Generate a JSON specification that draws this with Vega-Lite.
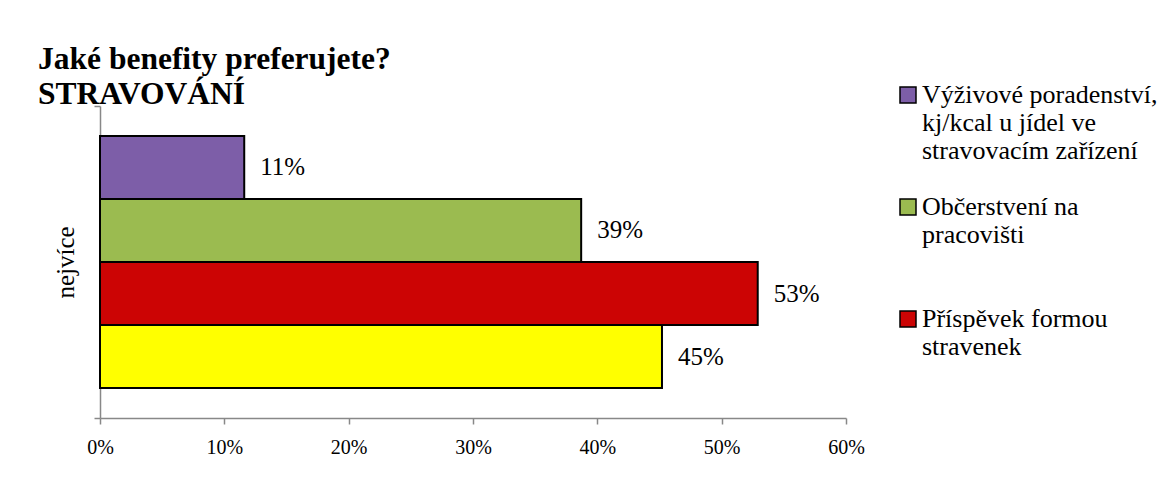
{
  "$schema": "https://vega.github.io/schema/vega-lite/v6.json",
  "width": 746,
  "height": 312,
  "autosize": "none",
  "padding": {"left": 100, "top": 106, "right": 327, "bottom": 73},
  "background": "white",
  "config": {"view": {"stroke": null}, "font": "Liberation Serif"},
  "title": {
    "text": ["Jaké benefity preferujete?", "STRAVOVÁNÍ"],
    "anchor": "start",
    "frame": "group",
    "font": "Liberation Serif",
    "fontSize": 31.5,
    "fontWeight": "bold",
    "color": "black",
    "lineHeight": 35,
    "dx": -62,
    "dy": 32,
    "offset": 4
  },
  "data": {
    "values": [
      {"kat": "nejvíce", "serie": "Výživové poradenství, kj/kcal u jídel ve stravovacím zařízení", "hodnota": 0.116, "popisek": "11%"},
      {"kat": "nejvíce", "serie": "Občerstvení na pracovišti", "hodnota": 0.387, "popisek": "39%"},
      {"kat": "nejvíce", "serie": "Příspěvek formou stravenek", "hodnota": 0.529, "popisek": "53%"},
      {"kat": "nejvíce", "serie": "Jiné", "hodnota": 0.452, "popisek": "45%"}
    ]
  },
  "encoding": {
    "y": {
      "field": "kat",
      "type": "nominal",
      "title": null,
      "scale": {"paddingInner": 0, "paddingOuter": 0},
      "axis": {
        "labelAngle": -90,
        "labelFont": "Liberation Serif",
        "labelFontSize": 25,
        "labelColor": "black",
        "labelPadding": 16,
        "domainColor": "#888888",
        "domainWidth": 1.5,
        "tickColor": "#888888",
        "tickWidth": 1.5,
        "tickSize": 6,
        "tickBand": "extent"
      }
    },
    "yOffset": {
      "field": "serie",
      "type": "nominal",
      "sort": ["Výživové poradenství, kj/kcal u jídel ve stravovacím zařízení", "Občerstvení na pracovišti", "Příspěvek formou stravenek", "Jiné"],
      "scale": {"paddingInner": 0, "paddingOuter": 0.476}
    },
    "x": {
      "field": "hodnota",
      "type": "quantitative",
      "title": null,
      "scale": {"domain": [0, 0.6], "nice": false, "zero": true},
      "axis": {
        "format": ".0%",
        "values": [0, 0.1, 0.2, 0.3, 0.4, 0.5, 0.6],
        "grid": false,
        "labelFont": "Liberation Serif",
        "labelFontSize": 20,
        "labelColor": "black",
        "labelPadding": 13,
        "labelFlush": false,
        "domainColor": "#888888",
        "domainWidth": 1.5,
        "tickColor": "#888888",
        "tickWidth": 1.5,
        "tickSize": 6
      }
    }
  },
  "layer": [
    {
      "mark": {"type": "bar", "stroke": "black", "strokeWidth": 2},
      "encoding": {
        "color": {
          "field": "serie",
          "type": "nominal",
          "scale": {
            "domain": ["Výživové poradenství, kj/kcal u jídel ve stravovacím zařízení", "Občerstvení na pracovišti", "Příspěvek formou stravenek", "Jiné"],
            "range": ["#7d5ea8", "#9bbb50", "#cc0404", "#ffff00"]
          },
          "legend": {
            "orient": "none",
            "legendX": 795,
            "legendY": -24,
            "title": null,
            "values": ["Výživové poradenství, kj/kcal u jídel ve stravovacím zařízení", "Občerstvení na pracovišti", "Příspěvek formou stravenek"],
            "labelExpr": "datum.label == 'Výživové poradenství, kj/kcal u jídel ve stravovacím zařízení' ? ['Výživové poradenství,', 'kj/kcal u jídel ve', 'stravovacím zařízení'] : datum.label == 'Občerstvení na pracovišti' ? ['Občerstvení na', 'pracovišti'] : ['Příspěvek formou', 'stravenek']",
            "labelFont": "Liberation Serif",
            "labelFontSize": 26,
            "labelColor": "black",
            "labelLimit": 400,
            "labelOffset": 1,
            "symbolType": "square",
            "symbolSize": 256,
            "symbolStrokeColor": "black",
            "symbolStrokeWidth": 1.5,
            "symbolOpacity": 1,
            "gridAlign": "all",
            "rowPadding": 30
          }
        }
      }
    },
    {
      "mark": {"type": "text", "align": "left", "baseline": "middle", "dx": 16, "font": "Liberation Serif", "fontSize": 25, "color": "black"},
      "encoding": {"text": {"field": "popisek"}}
    }
  ]
}
